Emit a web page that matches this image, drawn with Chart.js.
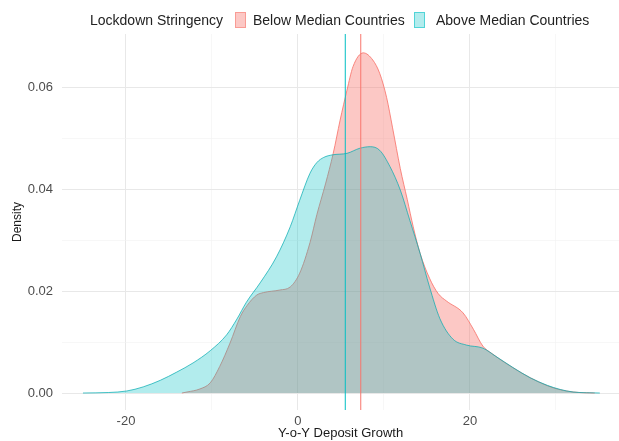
<!DOCTYPE html>
<html>
<head>
<meta charset="utf-8">
<script src="https://cdn.jsdelivr.net/npm/chart.js@4.4.1/dist/chart.umd.min.js"></script>
<style>
  html, body { margin: 0; padding: 0; background: #fff; }
  #wrap { position: relative; width: 619px; height: 441px; font-family: "Liberation Sans", Arial, sans-serif; }
  #density-chart { position: absolute; left: 0; top: 0; }
  .lg { position: absolute; top: 12px; height: 17px; line-height: 17px; font-size: 14px; color: #222; white-space: nowrap; }
  .key { position: absolute; top: 12px; width: 11px; height: 16px; box-sizing: border-box; }
</style>
</head>
<body>
<div id="wrap">
  <canvas id="density-chart" width="619" height="441"></canvas>
  <span class="lg" style="left:90px">Lockdown Stringency</span>
  <span class="key" style="left:235px;background:rgba(248,118,109,0.4);border:1px solid rgba(248,118,109,0.55)"></span>
  <span class="lg" style="left:253px">Below Median Countries</span>
  <span class="key" style="left:414px;background:rgba(0,191,196,0.3);border:1px solid rgba(0,191,196,0.55)"></span>
  <span class="lg" style="left:436px">Above Median Countries</span>
</div>
<script>
// 밀도 곡선
const belowX = [-13.5, -12.9, -11.4, -10.2, -9.1, -7.9, -6.7, -5.9, -4.8, -4.0, -2.1, -0.9, 0.2, 1.4, 2.2, 3.2, 4.1, 4.9, 5.7, 6.4, 7.6, 8.7, 9.5, 10.3, 11.0, 11.9, 12.7, 13.4, 14.2, 15.3, 16.3, 17.3, 19.2, 20.4, 21.5, 22.5, 24.3, 27.0, 29.7, 32.0, 34.5];
const belowY = [0, 0.0002, 0.0008, 0.002, 0.0052, 0.0098, 0.015, 0.0172, 0.0192, 0.0197, 0.0202, 0.0208, 0.0235, 0.0295, 0.035, 0.041, 0.047, 0.0535, 0.0594, 0.064, 0.0667, 0.0653, 0.0627, 0.058, 0.052, 0.044, 0.038, 0.0326, 0.0274, 0.0225, 0.0195, 0.0180, 0.0157, 0.0125, 0.0092, 0.0078, 0.0057, 0.0030, 0.0010, 0.0002, 0];

const aboveX = [-25.0, -22.0, -19.9, -18.0, -16.0, -14.1, -12.2, -10.2, -8.3, -7.1, -6.0, -4.4, -2.5, -0.9, 0.2, 1.4, 2.2, 3.0, 4.0, 5.7, 7.2, 8.4, 9.5, 10.7, 11.9, 13.0, 14.2, 15.3, 16.5, 18.0, 19.6, 21.5, 23.0, 25.0, 27.0, 29.0, 30.5, 32.0, 35.1];
const aboveY = [0, 0.0001, 0.0004, 0.0012, 0.0025, 0.0041, 0.0059, 0.0083, 0.0114, 0.0145, 0.0178, 0.0216, 0.0267, 0.0326, 0.0378, 0.0431, 0.0452, 0.0462, 0.0467, 0.047, 0.048, 0.0483, 0.0476, 0.0444, 0.0398, 0.0339, 0.0274, 0.0208, 0.0146, 0.0106, 0.0094, 0.0088, 0.0072, 0.0050, 0.0030, 0.0015, 0.0007, 0.0002, 0];

// 그룹 평균 (세로선)
const belowMean = 7.3;
const aboveMean = 5.5;

// 축 눈금
const xMajor = [-20, 0, 20];
const xGrid = [-20, -10, 0, 10, 20, 30];
const yMajor = [0, 0.02, 0.04, 0.06];
const yGrid = [0, 0.01, 0.02, 0.03, 0.04, 0.05, 0.06];

const X_MIN = -27.44, X_MAX = 37.33;
const Y_MIN = -0.00333, Y_MAX = 0.0704;

const colors = {
    below: '#F8766D',
    above: '#00BFC4',
    belowFill: 'rgba(248, 118, 109, 0.4)',
    aboveFill: 'rgba(0, 191, 196, 0.3)',
    grid: '#e8e8e8',
    minor: '#f2f2f2',
    tick: '#4d4d4d',
    title: '#1a1a1a'
};

const toPoints = (xs, ys) => xs.map((x, i) => ({ x: x, y: ys[i] }));
const isIn = (list, v) => list.some(t => Math.abs(t - v) < 1e-9);

const ctx = document.getElementById('density-chart').getContext('2d');

new Chart(ctx, {
    type: 'line',
    data: {
        datasets: [
            {
                label: 'Below Median Countries',
                data: toPoints(belowX, belowY),
                borderColor: 'rgba(248, 118, 109, 0.85)',
                backgroundColor: colors.belowFill,
                borderWidth: 1,
                fill: 'origin',
                cubicInterpolationMode: 'monotone',
                pointRadius: 0,
                order: 3
            },
            {
                label: 'Above Median Countries',
                data: toPoints(aboveX, aboveY),
                borderColor: 'rgba(0, 170, 175, 0.7)',
                backgroundColor: colors.aboveFill,
                borderWidth: 1,
                fill: 'origin',
                cubicInterpolationMode: 'monotone',
                pointRadius: 0,
                order: 2
            },
            {
                label: 'below mean',
                data: [{ x: belowMean, y: Y_MIN }, { x: belowMean, y: Y_MAX }],
                borderColor: colors.below,
                borderWidth: 1,
                fill: false,
                pointRadius: 0,
                order: 1
            },
            {
                label: 'above mean',
                data: [{ x: aboveMean, y: Y_MIN }, { x: aboveMean, y: Y_MAX }],
                borderColor: colors.above,
                borderWidth: 1,
                fill: false,
                pointRadius: 0,
                order: 1
            }
        ]
    },
    options: {
        responsive: false,
        animation: false,
        devicePixelRatio: 1,
        layout: { padding: { top: 34, right: 0, left: 0, bottom: 0 } },
        plugins: {
            legend: { display: false },
            tooltip: { enabled: false }
        },
        scales: {
            x: {
                type: 'linear',
                min: X_MIN,
                max: X_MAX,
                afterBuildTicks: (scale) => { scale.ticks = xGrid.map(v => ({ value: v })); },
                afterFit: (scale) => { scale.height = 31; },
                grid: {
                    drawTicks: false,
                    lineWidth: (c) => (c.tick && isIn(xMajor, c.tick.value)) ? 1 : 0.6,
                    color: (c) => (c.tick && isIn(xMajor, c.tick.value)) ? colors.grid : colors.minor
                },
                border: { display: false },
                ticks: {
                    color: colors.tick,
                    padding: 4,
                    maxRotation: 0,
                    autoSkip: false,
                    font: { family: "'Liberation Sans', Arial, sans-serif", size: 13 },
                    callback: (v) => isIn(xMajor, v) ? String(v) : ''
                },
                title: {
                    display: true,
                    text: 'Y-o-Y Deposit Growth',
                    color: colors.title,
                    padding: { top: 0, bottom: 0 },
                    font: { family: "'Liberation Sans', Arial, sans-serif", size: 13 }
                }
            },
            y: {
                type: 'linear',
                min: Y_MIN,
                max: Y_MAX,
                afterBuildTicks: (scale) => { scale.ticks = yGrid.map(v => ({ value: v })); },
                afterFit: (scale) => { scale.width = 62; },
                grid: {
                    drawTicks: false,
                    lineWidth: (c) => (c.tick && isIn(yMajor, c.tick.value)) ? 1 : 0.6,
                    color: (c) => (c.tick && isIn(yMajor, c.tick.value)) ? colors.grid : colors.minor
                },
                border: { display: false },
                ticks: {
                    color: colors.tick,
                    padding: 9,
                    autoSkip: false,
                    font: { family: "'Liberation Sans', Arial, sans-serif", size: 13 },
                    callback: (v) => isIn(yMajor, v) ? v.toFixed(2) : ''
                },
                title: {
                    display: true,
                    text: 'Density',
                    color: colors.title,
                    padding: { top: 10, bottom: 0 },
                    font: { family: "'Liberation Sans', Arial, sans-serif", size: 12 }
                }
            }
        }
    }
});
</script>
</body>
</html>
